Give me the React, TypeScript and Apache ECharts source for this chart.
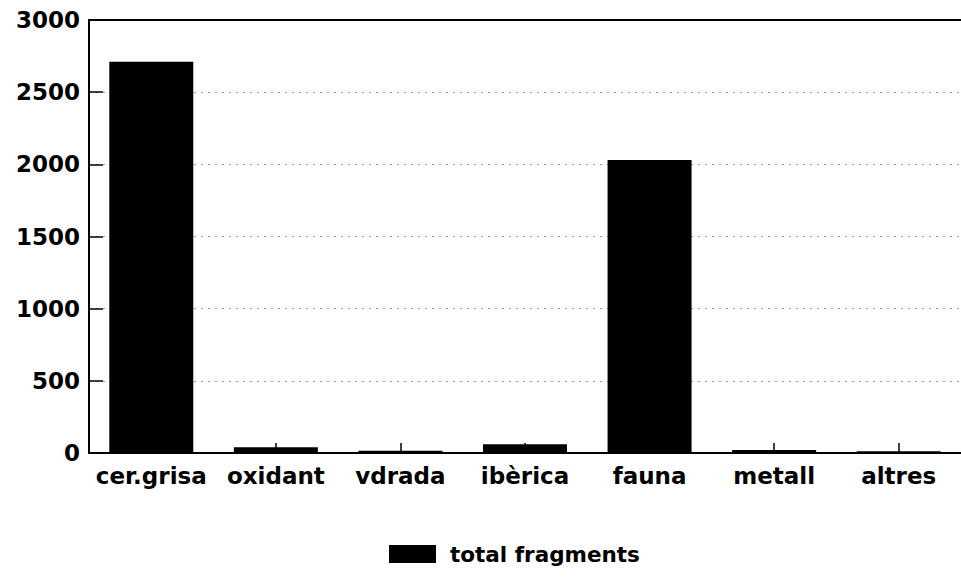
import React, { useEffect, useRef } from "react";
import * as echarts from "echarts";

const categories = ["cer.grisa", "oxidant", "vdrada", "ibèrica", "fauna", "metall", "altres"];
const totalFragments = [2710, 40, 15, 60, 2030, 20, 12];
const seriesName = "total fragments";
const yTicks = { min: 0, max: 3000, interval: 500 };

export default function App() {
  const ref = useRef<HTMLDivElement>(null);
  useEffect(() => {
    if (!ref.current) return;
    const chart = echarts.init(ref.current, null, { renderer: "svg" });
    const font = "DejaVu Sans";
    chart.setOption({
      animation: false,
      backgroundColor: "#ffffff",
      grid: { left: 89, top: 20, bottom: 126, right: -7, containLabel: false },
      legend: {
        data: [seriesName],
        left: 384,
        top: 538,
        itemWidth: 47,
        itemHeight: 18,
        itemGap: 10,
        icon: "rect",
        textStyle: { fontFamily: font, fontWeight: "bold", fontSize: 21.5, color: "#000", padding: [0, 0, 0, 9] },
      },
      xAxis: [
        {
          type: "category",
          data: categories,
          axisLine: { show: true, lineStyle: { color: "#000", width: 2 } },
          axisTick: { show: true, inside: true, alignWithLabel: true, length: 10, lineStyle: { color: "#000", width: 1.5 } },
          axisLabel: { interval: 0, fontFamily: font, fontWeight: "bold", fontSize: 23, color: "#000", margin: 11 },
          splitLine: { show: false },
        },
        {
          type: "category",
          position: "top",
          data: categories,
          axisLine: { show: true, lineStyle: { color: "#000", width: 2 } },
          axisTick: { show: false },
          axisLabel: { show: false },
        },
      ],
      yAxis: {
        type: "value",
        min: yTicks.min,
        max: yTicks.max,
        interval: yTicks.interval,
        axisLine: { show: true, lineStyle: { color: "#000", width: 2 } },
        axisTick: { show: true, inside: true, length: 14, lineStyle: { color: "#000", width: 1.5 } },
        axisLabel: {
          fontFamily: font,
          fontWeight: "bold",
          fontSize: 23,
          color: "#000",
          margin: 9,
          formatter: (v: number) => String(v),
        },
        splitLine: { show: true, lineStyle: { color: "#999", width: 1, type: [2, 5] } },
      },
      series: [
        {
          name: seriesName,
          type: "bar",
          data: totalFragments,
          barWidth: 84,
          itemStyle: { color: "#000" },
        },
      ],
    });
    return () => chart.dispose();
  }, []);
  return (
    <div
      ref={ref}
      style={{ position: "fixed", left: 0, top: 0, width: 961, height: 579, background: "#fff" }}
    />
  );
}
